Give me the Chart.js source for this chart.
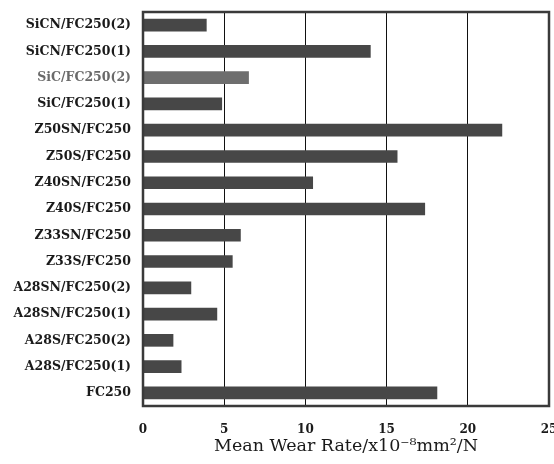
<!DOCTYPE html>
<html>
<head>
<meta charset="utf-8">
<script src="https://cdn.jsdelivr.net/npm/chart.js@4.4.0/dist/chart.umd.min.js"></script>
<style>
  html, body { margin: 0; padding: 0; background: #fff; }
  #wrap { width: 554px; height: 464px; }
</style>
</head>
<body>
<div id="wrap"><canvas id="wearChart"></canvas></div>
<script>
// categories, top to bottom
const materials = [
  "SiCN/FC250(2)", "SiCN/FC250(1)", "SiC/FC250(2)", "SiC/FC250(1)",
  "Z50SN/FC250", "Z50S/FC250", "Z40SN/FC250", "Z40S/FC250",
  "Z33SN/FC250", "Z33S/FC250", "A28SN/FC250(2)", "A28SN/FC250(1)",
  "A28S/FC250(2)", "A28S/FC250(1)", "FC250"
];
// mean wear rate, x10^-8 mm^2/N
const wearRate = [3.9, 14.0, 6.5, 4.85, 22.1, 15.65, 10.45, 17.35, 6.0, 5.5, 2.95, 4.55, 1.85, 2.35, 18.1];
const xTicks = [0, 5, 10, 15, 20, 25];

const barColors = materials.map(m => m === "SiC/FC250(2)" ? "#6e6e6e" : "#474747");
const labelColors = materials.map(m => m === "SiC/FC250(2)" ? "#6a6a6a" : "#1a1a1a");

// thick frame round the plot area
const frame = {
  id: "frame",
  afterDraw(chart) {
    const a = chart.chartArea, c = chart.ctx;
    c.save();
    c.strokeStyle = "#3a3a3a";
    c.lineWidth = 2.5;
    c.strokeRect(a.left, a.top, a.right - a.left, a.bottom - a.top);
    c.restore();
  }
};

new Chart(document.getElementById("wearChart"), {
  type: "bar",
  data: {
    labels: materials,
    datasets: [{
      data: wearRate,
      backgroundColor: barColors,
      barThickness: 12
    }]
  },
  options: {
    indexAxis: "y",
    responsive: true,
    maintainAspectRatio: false,
    animation: false,
    layout: { padding: { top: 12, right: 5, left: 0, bottom: 0 } },
    plugins: { legend: { display: false }, tooltip: { enabled: false } },
    scales: {
      x: {
        min: 0, max: 25,
        afterBuildTicks: s => { s.ticks = xTicks.map(v => ({ value: v })); },
        afterFit: s => { s.height = 58; s.paddingRight = 0; s.paddingLeft = 0; },
        grid: { color: "#111", lineWidth: 1, drawTicks: false },
        border: { display: false },
        ticks: {
          padding: 17,
          color: "#1a1a1a",
          font: { family: "DejaVu Serif", size: 12, weight: "bold" }
        },
        title: {
          display: true,
          text: "Mean Wear Rate/x10\u207B\u2078mm\u00B2/N",
          color: "#1a1a1a",
          padding: { top: 0, bottom: 7 },
          font: { family: "DejaVu Serif", size: 17.5 }
        }
      },
      y: {
        afterFit: s => { s.width = 143; s.paddingTop = 0; s.paddingBottom = 0; },
        grid: { display: false, drawTicks: false },
        border: { display: false },
        ticks: {
          padding: 12,
          color: labelColors,
          font: { family: "DejaVu Serif", size: 12.5, weight: "bold" }
        }
      }
    }
  },
  plugins: [frame]
});
</script>
</body>
</html>
